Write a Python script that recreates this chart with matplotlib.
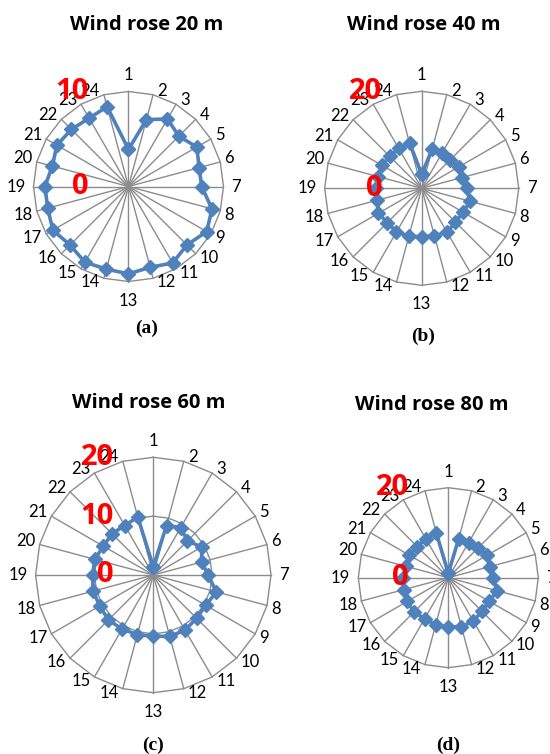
import numpy as np
import matplotlib
matplotlib.use("Agg")
import matplotlib.pyplot as plt

plt.rcParams['font.family'] = ['Lato', 'DejaVu Sans']

W, H = 550, 754

# 24 sectors, numbered clockwise from north
sectors = [str(i) for i in range(1, 25)]

rose_20m = [3.9, 7.3, 8.2, 7.5, 8.3, 7.7, 7.7, 9.1, 9.5, 8.7, 9.3, 8.8,
            9.2, 9.0, 9.2, 8.7, 9.2, 8.8, 8.8, 8.3, 8.7, 8.5, 8.3, 8.7]
rose_40m = [2.9, 8.4, 8.5, 8.3, 8.9, 8.5, 9.3, 10.3, 9.9, 9.8, 10.5, 10.1,
            10.0, 10.2, 10.4, 10.0, 10.3, 9.6, 9.5, 9.4, 9.5, 9.3, 9.5, 9.7]
rose_60m = [1.4, 8.7, 9.3, 8.2, 9.5, 8.5, 9.3, 11.1, 10.3, 10.4, 10.8, 10.8,
            10.4, 10.5, 10.6, 10.8, 10.5, 10.6, 10.3, 10.3, 9.8, 9.9, 9.7, 10.2]
rose_80m = [1.0, 9.0, 9.0, 9.2, 9.9, 9.6, 10.0, 11.2, 10.5, 10.6, 11.1, 11.3,
            10.9, 10.9, 10.5, 10.8, 10.5, 10.3, 10.1, 9.8, 10.0, 9.8, 10.0, 10.3]

titles = ["Wind rose 20 m", "Wind rose 40 m", "Wind rose 60 m", "Wind rose 80 m"]
tags = ["(a)", "(b)", "(c)", "(d)"]
axis_max = [10, 20, 20, 20]
rings = [[10], [20], [10, 20], [20]]
value_marks = [[0, 10], [0, 20], [0, 10, 20], [0, 20]]
series = [rose_20m, rose_40m, rose_60m, rose_80m]

# pixel layout: centre x, centre y, outer radius
centres = [(128.5, 186.5, 95), (421.7, 188.3, 97), (153.3, 575.0, 117.7), (448.3, 577.7, 90)]
title_pos = [(147, 24.5), (424, 24.5), (149, 403.5), (432, 404.5)]
tag_pos = [(146.7, 328), (423.3, 336.5), (153.3, 745), (448.3, 745)]

grid_col = '#8c8c8c'
line_col = '#4F81BD'

fig = plt.figure(figsize=(W / 100, H / 100), dpi=100)

theta = np.deg2rad(np.arange(24) * 15.0)
sn, cs = np.sin(theta), np.cos(theta)

for k in range(4):
    cx, cy, rp = centres[k]
    half = rp + 40
    ax = fig.add_axes([(cx - half) / W, 1 - (cy + half) / H, 2 * half / W, 2 * half / H])
    vmax = axis_max[k]
    lim = vmax * half / rp
    ax.set_xlim(-lim, lim)
    ax.set_ylim(-lim, lim)
    ax.axis('off')

    # spokes and polygon rings
    for s, c in zip(sn, cs):
        ax.plot([0, vmax * s], [0, vmax * c], color=grid_col, lw=1.0, zorder=1)
    for r in rings[k]:
        ax.plot(np.append(r * sn, r * sn[0]), np.append(r * cs, r * cs[0]),
                color=grid_col, lw=1.0, zorder=1)

    # the series, closed round
    v = np.array(series[k])
    xs, ys = v * sn, v * cs
    ax.plot(np.append(xs, xs[0]), np.append(ys, ys[0]), color=line_col, lw=2.6,
            marker='D', ms=7, mec=line_col, mfc=line_col, zorder=3)

    # sector labels
    for i, lab in enumerate(sectors):
        s, c = sn[i], cs[i]
        if i == 0:
            ha, va, off = 'center', 'bottom', (0, 8)
        elif i == 12:
            ha, va, off = 'center', 'top', (0, -11)
        elif i == 6:
            ha, va, off = 'left', 'center', (8, 0)
        elif i == 18:
            ha, va, off = 'right', 'center', (-8, 0)
        else:
            ha = 'left' if s > 0 else 'right'
            va = 'center'
            off = (4 * np.sign(s), 4 * np.sign(c))
        ax.annotate(lab, (vmax * s, vmax * c), xytext=off, textcoords='offset pixels',
                    ha=ha, va=va, fontsize=12, color='black', zorder=4)

    # value axis labels in red
    for m in value_marks[k]:
        ax.annotate(str(m), (0, m), xytext=(-39.5, 0), textcoords='offset pixels',
                    ha='right', va='center', fontsize=21, fontweight='bold',
                    family='Open Sans', color='#ff0000', zorder=6)

    tx, ty = title_pos[k]
    fig.text(tx / W, 1 - ty / H, titles[k], ha='center', va='center',
             fontsize=14.5, fontweight='bold', family='Open Sans', color='black')
    gx, gy = tag_pos[k]
    fig.text(gx / W, 1 - gy / H, tags[k], ha='center', va='center',
             fontsize=14, fontweight='bold', family='Liberation Serif', color='black')

fig.savefig('out.png', dpi=100, facecolor='white')
